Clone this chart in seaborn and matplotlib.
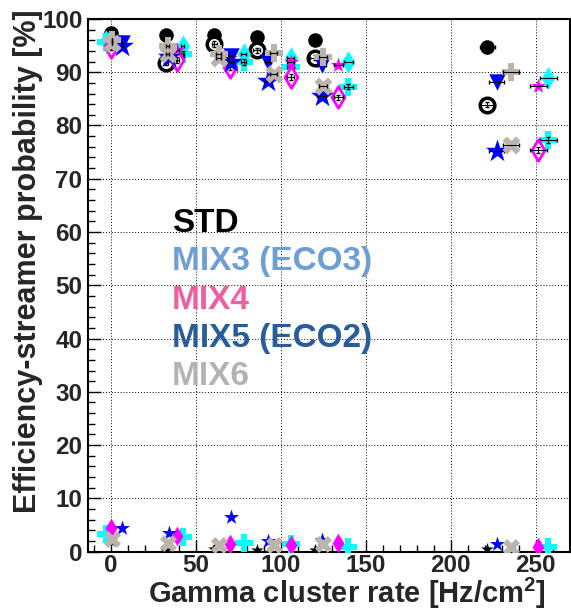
import matplotlib
matplotlib.use("Agg")
import matplotlib.pyplot as plt
import seaborn as sns
import numpy as np
from matplotlib.ticker import MultipleLocator

# ---------------- data ----------------
gases = ["STD", "MIX3 (ECO3)", "MIX4", "MIX5 (ECO2)", "MIX6"]

std_rate = [0, 32.5, 61, 86, 120, 221.5]
std_rate_err = [0, 1.0, 1.5, 2.0, 2.5, 4.5]
std_eff_a = [97.3, 96.9, 96.9, 96.6, 96.0, 94.7]
std_eff_b = [96.0, 91.8, 95.3, 94.1, 92.7, 83.9]
std_str = [2.0, 0.3, 0.4, 0.3, 0.3, 0.4]

mix3_rate = [-2.5, 42.3, 78.4, 105.9, 139.8, 257.4]
mix3_rate_err = [0, 1.0, 1.5, 2.0, 2.8, 5.0]
mix3_eff_a = [95.8, 95.0, 93.4, 92.7, 91.9, 88.9]
mix3_eff_b = [95.6, 93.4, 91.9, 90.9, 87.3, 77.3]
mix3_str = [3.4, 2.7, 1.6, 1.4, 0.8, 0.8]

mix4_rate = [0, 39.2, 70.2, 105.9, 133.9, 251.5]
mix4_rate_err = [0, 1.0, 1.5, 2.0, 2.7, 5.0]
mix4_eff_a = [95.5, 94.2, 92.6, 92.0, 91.4, 87.5]
mix4_eff_b = [94.7, 92.3, 90.9, 89.1, 85.3, 75.4]
mix4_str = [4.4, 2.9, 1.4, 1.3, 1.6, 0.8]

mix5_rate = [6.5, 34.5, 70.6, 92.5, 124.1, 227.0]
mix5_rate_err = [0, 1.0, 1.5, 2.0, 2.5, 4.5]
mix5_eff_a = [95.5, 94.0, 93.1, 91.9, 91.4, 88.1]
mix5_eff_b = [95.0, 92.8, 92.0, 88.4, 85.6, 75.3]
mix5_str = [4.5, 3.5, 6.5, 1.9, 2.2, 1.4]

mix6_rate = [0.6, 33.5, 63.5, 95.8, 125.0, 235.5]
mix6_rate_err = [0, 1.0, 1.5, 2.0, 2.5, 4.7]
mix6_eff_a = [96.0, 95.0, 93.4, 93.6, 92.9, 90.0]
mix6_eff_b = [95.5, 93.5, 92.6, 89.6, 87.5, 76.4]
mix6_str = [2.3, 1.7, 1.2, 1.2, 1.4, 0.9]

eff_err = [0.5, 0.5, 0.5, 0.5, 0.5, 0.5]

x_ticks = [0, 50, 100, 150, 200, 250]
y_ticks = [0, 10, 20, 30, 40, 50, 60, 70, 80, 90, 100]

legend_colors = ["#000000", "#6f9fd2", "#ef5ea3", "#295d99", "#b3b3b3"]

# ---------------- style ----------------
sns.set_theme(style="white")
plt.rcParams["font.family"] = ["Liberation Sans", "DejaVu Sans"]
plt.rcParams["font.weight"] = "bold"
plt.rcParams["mathtext.fontset"] = "custom"
plt.rcParams["mathtext.bf"] = "Liberation Sans:bold"
plt.rcParams["mathtext.rm"] = "Liberation Sans:bold"
plt.rcParams["mathtext.default"] = "bf"

fig = plt.figure(figsize=(5.71, 6.11), dpi=100)
ax = fig.add_axes([0.154, 0.0972, 0.844, 0.8718])

ax.grid(True, which="major", linestyle=(0, (1, 2)), color="black", linewidth=0.7)
ax.set_axisbelow(True)


def draw(rate, y, rerr, marker, color, size, ec=None, lw=0.0, fc=None, z=3, yerr=None):
    if rerr is not None:
        ax.errorbar(rate, y, xerr=rerr, yerr=yerr, fmt="none", ecolor="black",
                    elinewidth=0.8, capsize=1.5, zorder=z + 0.5)
    sns.scatterplot(x=rate, y=y, marker=marker, s=size,
                    color=color if fc is None else fc,
                    edgecolor=ec if ec is not None else color,
                    linewidth=lw, ax=ax, zorder=z, legend=False)


cyan = "#00ffff"
mag = "#ff00ff"
blue = "#0000ff"
gray = "#bcb4ac"

# STD
draw(std_rate, std_eff_a, std_rate_err, "o", "black", 110, z=3)
draw(std_rate, std_eff_b, std_rate_err, "o", "black", 110, ec="black", fc="white", lw=2.5, z=3, yerr=eff_err)
# MIX3
draw(mix3_rate, mix3_eff_a, mix3_rate_err, "d", cyan, 130, z=4)
draw(mix3_rate, mix3_eff_b, mix3_rate_err, "P", cyan, 170, z=4, yerr=eff_err)
# MIX4
draw(mix4_rate, mix4_eff_a, mix4_rate_err, "*", mag, 130, z=5)
draw(mix4_rate, mix4_eff_b, mix4_rate_err, "d", mag, 120, ec=mag, fc="white", lw=2.0, z=5, yerr=eff_err)
# MIX5
draw(mix5_rate, mix5_eff_a, mix5_rate_err, "v", blue, 140, z=6)
draw(mix5_rate, mix5_eff_b, mix5_rate_err, "*", blue, 300, z=6)
# MIX6
draw(mix6_rate, mix6_eff_a, mix6_rate_err, "P", gray, 170, z=7)
draw(mix6_rate, mix6_eff_b, mix6_rate_err, "X", gray, 170, z=7)

# streamer probabilities
draw(std_rate, std_str, None, "*", "black", 90, z=3)
draw(mix3_rate, mix3_str, None, "P", cyan, 150, z=4)
draw(mix4_rate, mix4_str, None, "d", mag, 100, z=5)
draw(mix5_rate, mix5_str, None, "*", blue, 130, z=6)
draw(mix6_rate, mix6_str, None, "X", gray, 150, z=7)

ax.set_xlim(-13.3, 270)
ax.set_ylim(0, 100)
ax.set_xticks(x_ticks)
ax.set_yticks(y_ticks)
ax.xaxis.set_minor_locator(MultipleLocator(10))
ax.yaxis.set_minor_locator(MultipleLocator(2))
ax.tick_params(axis="both", which="major", direction="in", length=9, width=1.0,
               labelsize=17.5, color="black", bottom=True, left=True, top=False, right=False)
ax.tick_params(axis="both", which="minor", direction="in", length=5, width=1.0,
               color="black", bottom=True, left=True, top=False, right=False)
ax.tick_params(axis="x", pad=2)
ax.tick_params(axis="y", pad=4)
for lab in ax.get_xticklabels() + ax.get_yticklabels():
    lab.set_fontweight("bold")
for sp in ax.spines.values():
    sp.set_color("black")
    sp.set_linewidth(1.5)
ax.set_xlabel("")
ax.set_ylabel("")

fig.text(28 / 571, 1 - 9 / 611, "Efficiency-streamer probability [%]", rotation=90,
         ha="center", va="top", fontsize=22, fontweight="bold")
fig.text(546 / 571, 1 - 603 / 611, "Gamma cluster rate [Hz/cm$^{2}$]",
         ha="right", va="baseline", fontsize=21, fontweight="bold")

baselines = [231.7, 270, 309, 347, 385]
for name, col, yb in zip(gases, legend_colors, baselines):
    fig.text(172 / 571, 1 - yb / 611, name, color=col, fontsize=24,
             fontweight="bold", ha="left", va="baseline")

fig.savefig("out.png", dpi=100)
